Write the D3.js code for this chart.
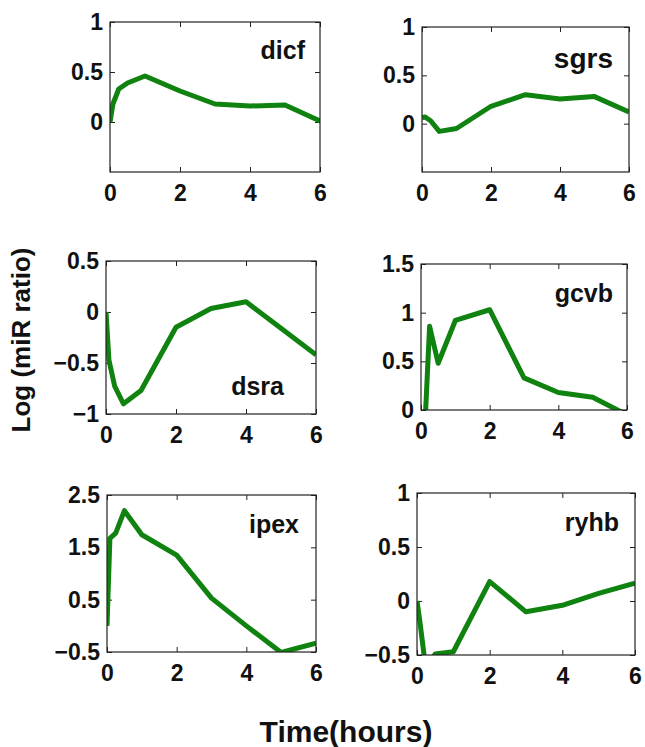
<!DOCTYPE html>
<html>
<head>
<meta charset="utf-8">
<script src="https://cdn.jsdelivr.net/npm/d3@7"></script>
<style>
  html, body { margin: 0; padding: 0; background: #fff; }
  svg { display: block; font-family: "Liberation Sans", Arial, Helvetica, sans-serif; font-weight: bold; }
</style>
</head>
<body>
<div id="app"></div>
<script>
// sampling times (hours)
var times = [0, 0.083, 0.25, 0.5, 1, 2, 3, 4, 5, 6];
var xTicks = [0, 2, 4, 6];

// log miR ratio per gene
var dicf = [0, 0.18, 0.33, 0.39, 0.46, 0.31, 0.18, 0.16, 0.17, 0.01];
var sgrs = [0.06, 0.07, 0.03, -0.08, -0.05, 0.18, 0.30, 0.255, 0.28, 0.12];
var dsra = [0, -0.47, -0.73, -0.90, -0.77, -0.15, 0.035, 0.10, -0.16, -0.42];
var gcvb = [-0.6, -0.4, 0.86, 0.48, 0.92, 1.03, 0.33, 0.18, 0.13, -0.05];
var ipex = [0, 1.67, 1.77, 2.2, 1.74, 1.35, 0.53, 0.0, -0.51, -0.33];
var ryhb = [0, -0.2, -0.65, -0.49, -0.47, 0.18, -0.10, -0.04, 0.07, 0.165];

var names = ["dicf", "sgrs", "dsra", "gcvb", "ipex", "ryhb"];
var series = [dicf, sgrs, dsra, gcvb, ipex, ryhb];
var yDomains = [[-0.5, 1], [-0.5, 1], [-1, 0.5], [0, 1.5], [-0.5, 2.5], [-0.5, 1]];
var yTicks = [[0, 0.5, 1], [0, 0.5, 1], [-1, -0.5, 0, 0.5], [0, 0.5, 1, 1.5], [-0.5, 0.5, 1.5, 2.5], [-0.5, 0, 0.5, 1]];

// panel boxes: left, top, right, bottom ; label anchor (right gap, baseline from top)
var boxes = [
  {l: 110, t: 22, r: 320, b: 172, lx: 15, ly: 37, fs: 25},
  {l: 422, t: 27, r: 629, b: 172, lx: 16, ly: 41, fs: 28},
  {l: 106, t: 261, r: 316, b: 414, lx: 32, ly: 134, fs: 25},
  {l: 421, t: 264, r: 627, b: 410, lx: 14, ly: 38, fs: 25},
  {l: 107, t: 495, r: 316, b: 652, lx: 17, ly: 38, fs: 25},
  {l: 417, t: 493, r: 635, b: 655, lx: 16, ly: 38, fs: 25}
];

var width = 645, height = 747;
var svg = d3.select("#app").append("svg").attr("width", width).attr("height", height);
svg.append("rect").attr("width", width).attr("height", height).attr("fill", "#fff");

var fmt = function (d) { return String(d).replace("-", "\u2212"); };

names.forEach(function (name, i) {
  var bx = boxes[i];
  var w = bx.r - bx.l, h = bx.b - bx.t;
  var x = d3.scaleLinear().domain([0, 6]).range([0, w]);
  var y = d3.scaleLinear().domain(yDomains[i]).range([h, 0]);
  var g = svg.append("g").attr("transform", "translate(" + bx.l + "," + bx.t + ")");

  g.append("clipPath").attr("id", "clip" + i)
    .append("rect").attr("width", w).attr("height", h);

  var styleAxis = function (a) {
    a.select(".domain").remove();
    a.selectAll(".tick line").attr("stroke", "#222");
    a.selectAll("text").attr("fill", "#111").style("font-size", "23px")
      .style("font-family", "'Liberation Sans', Arial, sans-serif").style("font-weight", "bold");
  };

  g.append("g").call(d3.axisLeft(y).tickValues(yTicks[i]).tickSize(-5).tickPadding(7).tickFormat(fmt)).call(styleAxis);
  g.append("g").attr("transform", "translate(" + w + ",0)")
    .call(d3.axisRight(y).tickValues(yTicks[i]).tickSize(-5).tickFormat("")).call(styleAxis);
  g.append("g").attr("transform", "translate(0," + h + ")")
    .call(d3.axisBottom(x).tickValues(xTicks).tickSize(-5).tickPadding(13).tickFormat(fmt)).call(styleAxis);
  g.append("g")
    .call(d3.axisTop(x).tickValues(xTicks).tickSize(-5).tickFormat("")).call(styleAxis);

  var line = d3.line().x(function (d, j) { return x(times[j]); }).y(function (d) { return y(d); });
  g.append("path").datum(series[i])
    .attr("clip-path", "url(#clip" + i + ")")
    .attr("fill", "none").attr("stroke", "#0f820f").attr("stroke-width", 5)
    .attr("stroke-linejoin", "round").attr("d", line);

  g.append("rect").attr("width", w).attr("height", h)
    .attr("fill", "none").attr("stroke", "#222").attr("stroke-width", 1.2);

  g.append("text").attr("x", w - bx.lx).attr("y", bx.ly)
    .attr("text-anchor", "end").attr("fill", "#111")
    .style("font-size", bx.fs + "px").text(name);
});

svg.append("text")
  .attr("transform", "translate(30,340) rotate(-90)")
  .attr("text-anchor", "middle").attr("fill", "#111")
  .style("font-size", "26px").text("Log (miR ratio)");

svg.append("text")
  .attr("x", 346).attr("y", 742)
  .attr("text-anchor", "middle").attr("fill", "#111")
  .style("font-size", "30px").text("Time(hours)");
</script>
</body>
</html>
